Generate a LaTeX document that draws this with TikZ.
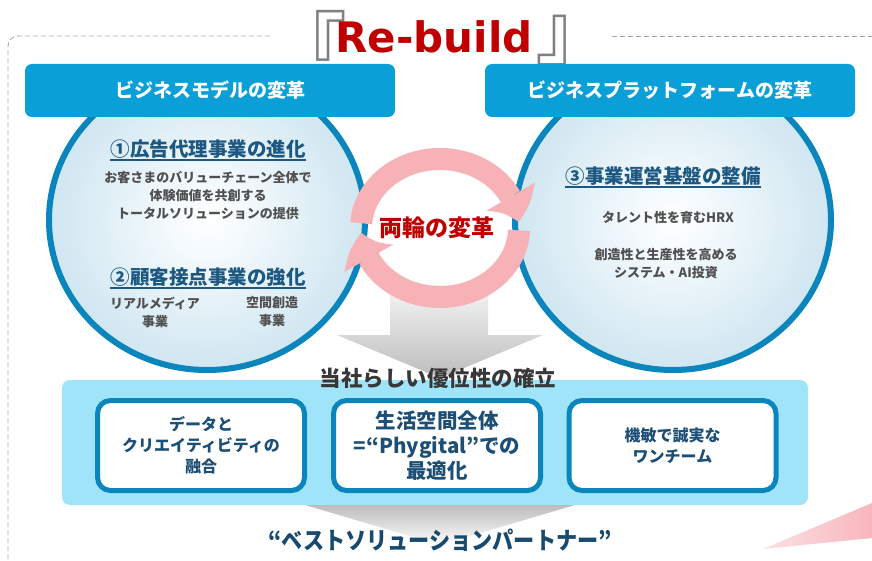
\documentclass[tikz,border=0pt]{standalone}
\usepackage{fontspec}
\setmainfont{Noto Sans CJK JP}
\newfontfamily\titlefont{DejaVu Sans}
\usetikzlibrary{arrows.meta,bending,shapes.geometric,calc}
\definecolor{hdrblue}{RGB}{10,160,215}
\definecolor{cborder}{RGB}{10,134,188}
\definecolor{cedge}{RGB}{160,204,224}
\definecolor{cinner}{RGB}{244,250,253}
\definecolor{headc}{RGB}{28,88,130}
\definecolor{bodyc}{RGB}{80,80,80}
\definecolor{bandc}{RGB}{160,228,250}
\definecolor{boxtext}{RGB}{28,78,118}
\definecolor{bottomc}{RGB}{24,74,112}
\definecolor{redc}{RGB}{192,0,0}
\definecolor{pinkc}{RGB}{247,178,184}
\definecolor{dashc}{RGB}{168,168,168}
\definecolor{graya}{RGB}{188,188,188}
\definecolor{grayb}{RGB}{246,246,246}
\definecolor{advc}{RGB}{55,55,55}
\definecolor{brk}{RGB}{128,128,128}
\definecolor{wedgec}{RGB}{248,182,188}
\definecolor{wedgel}{RGB}{252,225,228}
\pgfdeclareradialshading{circshade}{\pgfpoint{0bp}{0bp}}{color(0bp)=(white); color(6bp)=(cinner); color(50bp)=(cedge); color(100bp)=(cedge)}
\begin{document}
\begin{tikzpicture}[x=1pt,y=-1pt,
  hdr/.style={rectangle, fill=hdrblue, rounded corners=7pt, minimum width=370pt, minimum height=53pt, inner sep=0pt, text=white, font=\bfseries\fontsize{19}{22}\selectfont},
  circ/.style={ellipse, draw=cborder, line width=6pt, shade, shading=circshade, minimum width=316pt, minimum height=300pt, inner sep=0pt},
  heading/.style={inner sep=0pt, text=headc, font=\bfseries\fontsize{19.5}{22}\selectfont},
  uline/.style={draw=headc, line width=1.3pt},
  body/.style={inner sep=0pt, align=center, text=bodyc, font=\bfseries\fontsize{13}{18}\selectfont},
  ringarr/.style={draw=pinkc, line width=22pt, -{Triangle[width=56pt,length=27pt,line width=0pt,bend]}},
  wbox/.style={rectangle, draw=cborder, line width=5pt, fill=white, rounded corners=13pt, minimum width=207pt, minimum height=90pt, inner sep=0pt, align=center, text=boxtext},
  dashb/.style={draw=dashc, line width=0.9pt, dash pattern=on 5pt off 3pt, rounded corners=10pt},
  brkt/.style={inner sep=0pt, text=brk, font=\fontsize{77}{77}\selectfont}
]
\useasboundingbox (0,0) rectangle (872,561);
\fill[white] (0,0) rectangle (872,561);
% dashed frame
\coordinate (fa) at (270,36);
\coordinate (fb) at (8,600);
\coordinate (fc) at (612,36);
\coordinate (fd) at (880,36);
\draw[dashb] (fa) -| (fb);
\draw[dashb] (fc) -- (fd);
% title
\node[brkt, anchor=north west] (lbr) at (270,10) {『};
\node[anchor=base, inner sep=0pt, text=redc, font=\titlefont\bfseries\fontsize{42}{46}\selectfont] (ttl) at (434,53) {Re-build};
\node[brkt, anchor=north west] (rbr) at (535,15) {』};
% circles
\node[circ] (lc) at (207,220) {};
\node[circ] (rc) at (673,220) {};
% headers
\node[hdr] (lh) at (210,90.5) {ビジネスモデルの変革};
\node[hdr] (rh) at (670,90.5) {ビジネスプラットフォームの変革};
% left circle texts
\node[heading] (h1) at (208,149) {①広告代理事業の進化};
\draw[uline] ($(h1.south west)+(0,1.5)$) -- ($(h1.south east)+(0,1.5)$);
\node[body] (b1) at (208,196) {お客さまのバリューチェーン全体で\\体験価値を共創する\\トータルソリューションの提供};
\node[heading] (h2) at (208,277) {②顧客接点事業の強化};
\draw[uline] ($(h2.south west)+(0,1.5)$) -- ($(h2.south east)+(0,1.5)$);
\node[body, text width=110pt] (b2) at (155,312) {リアルメディア\\事業};
\node[body, text width=80pt] (b3) at (272,312) {空間創造\\事業};
% right circle texts
\node[heading] (h3) at (663,176) {③事業運営基盤の整備};
\draw[uline] ($(h3.south west)+(0,1.5)$) -- ($(h3.south east)+(0,1.5)$);
\node[body] (b4) at (668,218) {タレント性を育むHRX};
\node[body] (b5) at (666,264) {創造性と生産性を高める\\システム・AI投資};
% gray arrow
\shade[top color=grayb, bottom color=graya] (390,285) -- (488,285) -- (488,335) -- (543,335) -- (440,378) -- (337,335) -- (390,335) -- cycle;
% ring arrows
\coordinate (ring) at (440,228);
\draw[ringarr] ($(ring)+(184:79 and 69)$) arc[start angle=184, end angle=355, x radius=79, y radius=69];
\draw[ringarr] ($(ring)+(2:79 and 69)$) arc[start angle=2, end angle=176, x radius=79, y radius=69];
\node[inner sep=0pt, text=redc, font=\bfseries\fontsize{23}{26}\selectfont] (ringtxt) at (437,228) {両輪の変革};
% band
\node[rectangle, fill=bandc, rounded corners=8pt, minimum width=746pt, minimum height=125pt, inner sep=0pt] (band) at (435,442.5) {};
\node[inner sep=0pt, text=advc, font=\bfseries\fontsize{21.5}{24}\selectfont] (adv) at (438,378) {当社らしい優位性の確立};
\node[wbox, font=\bfseries\fontsize{16}{21}\selectfont] (x1) at (201,445.5) {データと\\クリエイティビティの\\融合};
\node[wbox, font=\bfseries\fontsize{20.5}{25}\selectfont] (x2) at (437,445.5) {生活空間全体\\=“Phygital”での\\最適化};
\node[wbox, font=\bfseries\fontsize{16}{21}\selectfont] (x3) at (672.5,445.5) {機敏で誠実な\\ワンチーム};
% lower wedge
\shade[top color=graya, bottom color=white] (305,505) -- (575,505) -- (440,545) -- cycle;
\node[inner sep=0pt, text=bottomc, font=\bfseries\fontsize{24}{27}\selectfont] (best) at (440,540) {\scalebox{0.88}[1]{“ベストソリューションパートナー”}};
% pink wedge
\shade[left color=wedgel, right color=wedgec] (763,549) -- (872,503) -- (872,538) -- cycle;
\end{tikzpicture}
\end{document}
